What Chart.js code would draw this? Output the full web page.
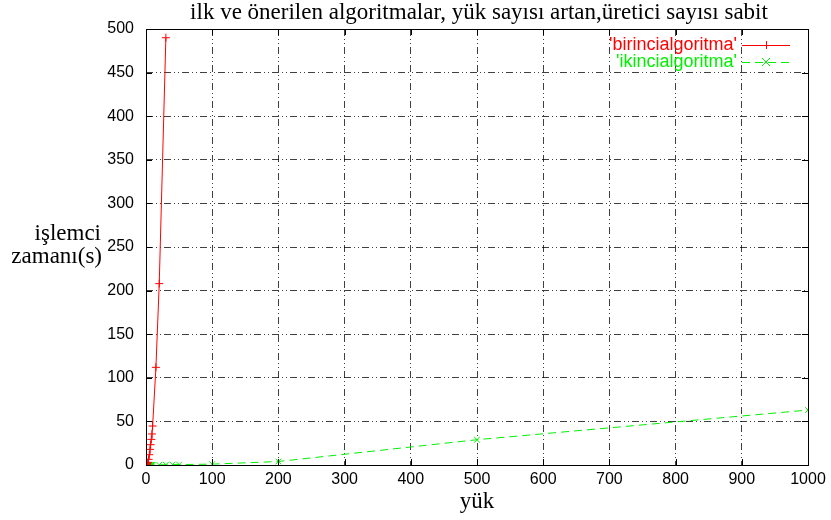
<!DOCTYPE html>
<html>
<head>
<meta charset="utf-8">
<script src="https://cdn.jsdelivr.net/npm/chart.js@4"></script>
<style>
html,body{margin:0;padding:0;background:#fff;}
#wrap{width:831px;height:520px;position:relative;}
</style>
</head>
<body>
<div id="wrap"><canvas id="c" width="831" height="520"></canvas></div>
<script>
const chartTitle = "ilk ve önerilen algoritmalar, yük sayısı artan,üretici sayısı sabit";
const xTitle = "yük";
const yTitleLines = ["işlemci", "zamanı(s)"];
const seriesNames = ["'birincialgoritma'", "'ikincialgoritma'"];

const yukBirinci = [1, 2, 3, 4, 5, 6, 7, 8, 9, 10, 15, 20, 30];
const birinci    = [0.5, 1.5, 3, 6.5, 11.8, 17.9, 23.3, 29.4, 35.6, 44.7, 112, 208, 490];

const yukIkinci = [1, 2, 3, 4, 5, 6, 7, 8, 9, 10, 20, 30, 40, 50, 100, 200, 500, 1000];
const ikinci    = [0.01, 0.02, 0.03, 0.04, 0.05, 0.06, 0.08, 0.1, 0.12, 0.15, 0.2, 0.3, 0.4, 0.5, 1, 4, 29, 63];

const xTicks = [0, 100, 200, 300, 400, 500, 600, 700, 800, 900, 1000];
const yTicks = [0, 50, 100, 150, 200, 250, 300, 350, 400, 450, 500];

const RED = '#ff0000';
const GREEN = '#00f000';

const decor = {
  id: 'decor',
  afterDatasetsDraw(chart) {
    const ctx = chart.ctx;
    const a = chart.chartArea;
    const xs = chart.scales.x, ys = chart.scales.y;
    ctx.save();
    ctx.strokeStyle = '#000';
    ctx.lineWidth = 1;
    ctx.setLineDash([]);
    ctx.strokeRect(Math.round(a.left)+0.5, Math.round(a.top)+0.5, Math.round(a.right-a.left), Math.round(a.bottom-a.top));
    const tl = 6;
    ctx.beginPath();
    xTicks.forEach(v => {
      const px = Math.round(xs.getPixelForValue(v)) + 0.5;
      ctx.moveTo(px, a.bottom); ctx.lineTo(px, a.bottom - tl);
      ctx.moveTo(px, a.top); ctx.lineTo(px, a.top + tl);
    });
    yTicks.forEach(v => {
      const py = Math.round(ys.getPixelForValue(v)) + 0.5;
      ctx.moveTo(a.left, py); ctx.lineTo(a.left + tl, py);
      ctx.moveTo(a.right, py); ctx.lineTo(a.right - tl, py);
    });
    ctx.stroke();
    ctx.fillStyle = '#000';
    ctx.textAlign = 'center';
    ctx.textBaseline = 'alphabetic';
    ctx.font = '23px "Liberation Serif", "DejaVu Serif", serif';
    ctx.fillText(chartTitle, (a.left + a.right) / 2 + 2, 19);
    ctx.fillText(xTitle, (a.left + a.right) / 2, 508);
    ctx.textAlign = 'right';
    ctx.fillText(yTitleLines[0], 101, 240);
    ctx.fillText(yTitleLines[1], 102, 263);
    ctx.font = '18px "Liberation Sans", Arial, sans-serif';
    ctx.textAlign = 'right';
    ctx.textBaseline = 'middle';
    const ds = chart.data.datasets;
    const rows = [45, 62];
    ds.forEach((d, i) => {
      const y = rows[i];
      ctx.fillStyle = d.borderColor;
      ctx.fillText(seriesNames[i], 737, y);
      ctx.strokeStyle = d.borderColor;
      ctx.lineWidth = 1;
      ctx.setLineDash(d.borderDash || []);
      ctx.beginPath();
      ctx.moveTo(742, y + 0.5); ctx.lineTo(790, y + 0.5);
      ctx.stroke();
      ctx.setLineDash([]);
      const mx = 766, r = 4;
      ctx.beginPath();
      if (i === 0) {
        ctx.moveTo(mx - r, y + 0.5); ctx.lineTo(mx + r, y + 0.5);
        ctx.moveTo(mx + 0.5, y - r); ctx.lineTo(mx + 0.5, y + r);
      } else {
        ctx.moveTo(mx - r, y - r); ctx.lineTo(mx + r, y + r);
        ctx.moveTo(mx - r, y + r); ctx.lineTo(mx + r, y - r);
      }
      ctx.stroke();
    });
    ctx.restore();
  }
};

new Chart(document.getElementById('c'), {
  type: 'scatter',
  data: {
    datasets: [
      {
        label: seriesNames[0],
        data: yukBirinci.map((x, i) => ({x: x, y: birinci[i]})),
        showLine: true,
        borderColor: RED,
        backgroundColor: RED,
        borderWidth: 1,
        pointStyle: 'cross',
        pointRadius: 4,
        pointBorderWidth: 1,
        pointBorderColor: RED,
        tension: 0
      },
      {
        label: seriesNames[1],
        data: yukIkinci.map((x, i) => ({x: x, y: ikinci[i]})),
        showLine: true,
        borderColor: GREEN,
        backgroundColor: GREEN,
        borderWidth: 1,
        borderDash: [8, 5],
        pointStyle: 'crossRot',
        pointRadius: 4,
        pointBorderWidth: 1,
        pointBorderColor: GREEN,
        tension: 0
      }
    ]
  },
  options: {
    responsive: false,
    animation: false,
    events: [],
    layout: { padding: { left: 0, top: 29, right: 23, bottom: 0 } },
    plugins: { legend: { display: false }, title: { display: false }, tooltip: { enabled: false } },
    scales: {
      x: {
        type: 'linear', min: 0, max: 1000,
        afterBuildTicks: s => { s.ticks = xTicks.map(v => ({value: v})); },
        afterFit: s => { s.height = 55; },
        ticks: { color: '#000', padding: 5, font: { family: '"Liberation Sans", Arial, sans-serif', size: 16 }, maxRotation: 0, callback: v => String(v) },
        grid: { color: 'rgba(0,0,0,0.75)', lineWidth: 1, drawTicks: false },
        border: { display: false, dash: [7, 3, 1, 3, 1, 3] }
      },
      y: {
        type: 'linear', min: 0, max: 500,
        afterBuildTicks: s => { s.ticks = yTicks.map(v => ({value: v})); },
        afterFit: s => { s.width = 146; },
        ticks: { color: '#000', padding: 12, font: { family: '"Liberation Sans", Arial, sans-serif', size: 16 }, callback: v => String(v) },
        grid: { color: 'rgba(0,0,0,0.75)', lineWidth: 1, drawTicks: false },
        border: { display: false, dash: [7, 3, 1, 3, 1, 3] }
      }
    }
  },
  plugins: [decor]
});
</script>
</body>
</html>
